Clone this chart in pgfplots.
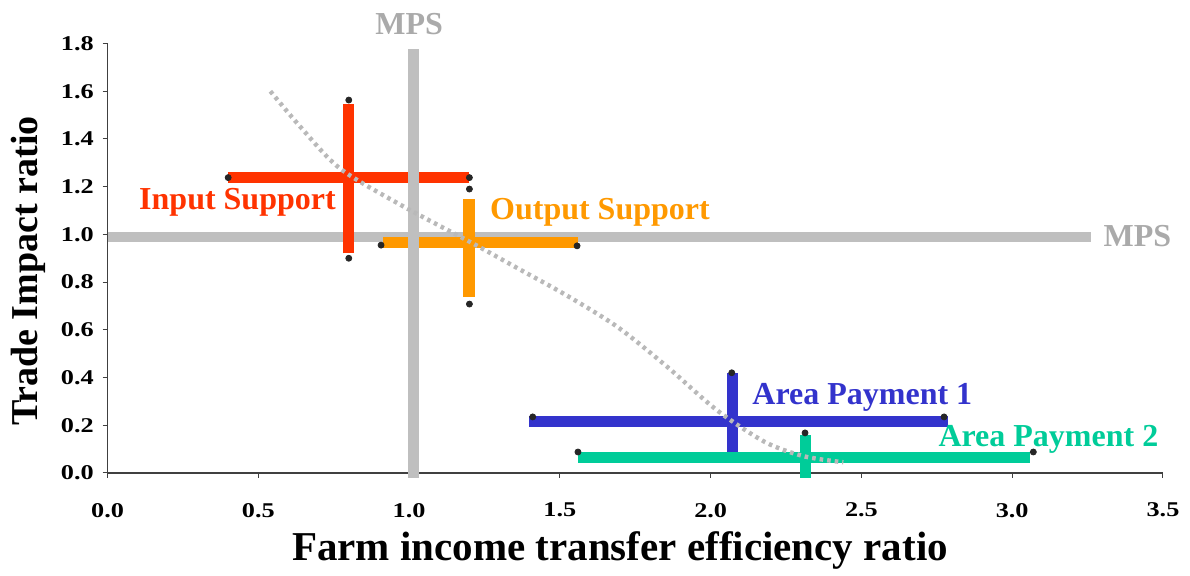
\documentclass[border=0pt]{standalone}
\usepackage{fontspec}
\setmainfont{Liberation Serif}
\usepackage{pgfplots}
\pgfplotsset{compat=1.18}
\definecolor{cred}{RGB}{255,51,0}
\definecolor{corange}{RGB}{255,153,0}
\definecolor{cblue}{RGB}{51,51,204}
\definecolor{cteal}{RGB}{0,204,153}
\definecolor{cgray}{RGB}{191,191,191}
\definecolor{cgraytext}{RGB}{170,170,170}
\definecolor{cdot}{RGB}{185,185,185}
\begin{document}
\begin{tikzpicture}
\begin{axis}[
  scale only axis, width=527.75pt, height=214.75pt,
  xmin=0, xmax=3.5, ymin=0, ymax=1.8,
  axis x line=bottom, axis y line=left,
  axis line style={-, black!75, line width=0.6pt},
  xtick={0,0.5,1,1.5,2,2.5,3,3.5},
  ytick={0,0.2,0.4,0.6,0.8,1.0,1.2,1.4,1.6,1.8},
  tick align=outside, major tick length=2.5pt,
  tick style={black!75, line width=0.5pt},
  /pgf/number format/.cd, fixed, fixed zerofill, precision=1, assume math mode=true,
  /pgfplots/.cd,
  ticklabel style={font=\bfseries\fontsize{10.5}{12}\selectfont, xscale=1.25},
  xticklabel style={yshift=-9pt},
  xlabel={Farm income transfer efficiency ratio},
  ylabel={Trade Impact ratio},
  xlabel style={font=\bfseries\fontsize{20.5}{24}\selectfont, at={(axis description cs:0.4856,-0.181)}, anchor=center},
  ylabel style={font=\bfseries\fontsize{19}{22}\selectfont, at={(axis description cs:-0.0753,0.47)}, anchor=center, rotate=0},
  clip=false,
]
% MPS horizontal
\addplot[cgray, line width=5pt] coordinates {(0,0.989) (3.26,0.989)};
% end dots
\addplot[only marks, mark=*, mark size=1.5pt, black!85] coordinates {
  (0.40,1.238) (1.20,1.238) (0.80,1.563) (0.80,0.90)
  (0.907,0.955) (1.557,0.952) (1.20,1.19) (1.20,0.708)
  (1.41,0.235) (2.774,0.235) (2.07,0.42)
  (1.56,0.088) (3.07,0.088) (2.313,0.168)};
% Input support
\addplot[cred, line width=5.5pt] coordinates {(0.40,1.238) (1.20,1.238)};
\addplot[cred, line width=5.5pt] coordinates {(0.80,0.92) (0.80,1.547)};
% Output support
\addplot[corange, line width=5.5pt] coordinates {(0.914,0.966) (1.56,0.966)};
\addplot[corange, line width=6pt] coordinates {(1.20,0.738) (1.20,1.148)};
% Area payment 1
\addplot[cblue, line width=5.5pt] coordinates {(1.397,0.214) (2.788,0.214)};
\addplot[cblue, line width=5.5pt] coordinates {(2.071,0.088) (2.071,0.419)};
% Area payment 2
\addplot[cteal, line width=5.5pt] coordinates {(1.56,0.065) (3.06,0.065)};
\addplot[cteal, line width=5.5pt] coordinates {(2.313,-0.02) (2.313,0.16)};
% MPS vertical
\addplot[cgray, line width=5.5pt] coordinates {(1.015,-0.02) (1.015,1.777)};
% trend
\addplot[cdot, line width=2.2pt, dash pattern=on 1.8pt off 2pt, smooth] coordinates {
  (0.54,1.60) (0.64,1.45) (0.77,1.277) (0.97,1.125) (1.21,0.963) (1.36,0.858)
  (1.52,0.746) (1.69,0.613) (1.855,0.446) (2.02,0.264) (2.18,0.13) (2.31,0.07) (2.44,0.045)};
% labels
\node[cred, font=\bfseries\fontsize{16}{19}\selectfont] at (axis cs:0.431,1.135) {Input Support};
\node[corange, font=\bfseries\fontsize{16}{19}\selectfont] at (axis cs:1.633,1.094) {Output Support};
\node[cblue, font=\bfseries\fontsize{16}{19}\selectfont] at (axis cs:2.503,0.318) {Area Payment 1};
\node[cteal, font=\bfseries\fontsize{16}{19}\selectfont] at (axis cs:3.12,0.142) {Area Payment 2};
\node[cgraytext, font=\bfseries\fontsize{16}{19}\selectfont] at (axis cs:3.415,0.993) {MPS};
\node[cgraytext, font=\bfseries\fontsize{16}{19}\selectfont] at (axis cs:1.0,1.882) {MPS};
\coordinate (bbsw) at (axis description cs:-0.1019,-0.2398);
\coordinate (bbne) at (axis description cs:1.0256,1.1013);
\end{axis}
\pgfresetboundingbox
\useasboundingbox (bbsw) rectangle (bbne);
\end{tikzpicture}
\end{document}
